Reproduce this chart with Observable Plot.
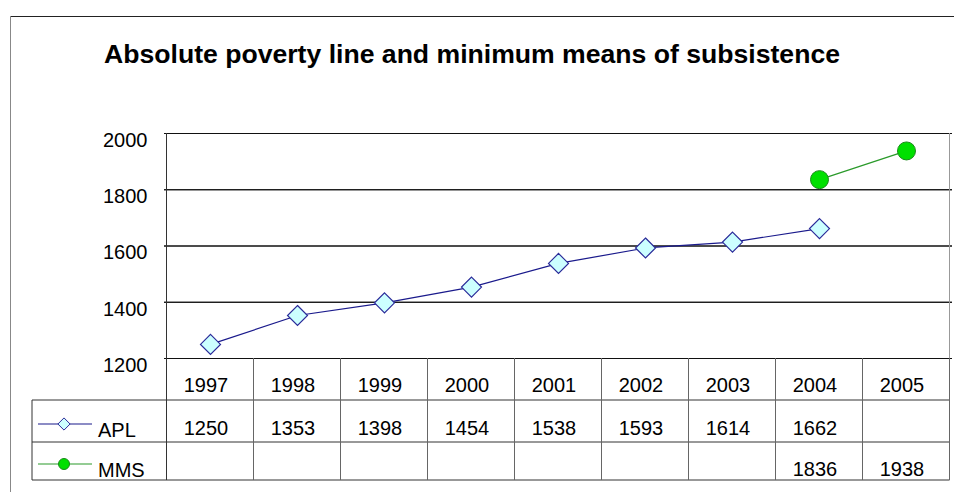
<!DOCTYPE html>
<html>
<head>
<meta charset="utf-8">
<script src="https://cdn.jsdelivr.net/npm/d3@7"></script>
<script src="https://cdn.jsdelivr.net/npm/@observablehq/plot@0.6"></script>
<style>
  html, body { margin: 0; padding: 0; background: #fff; }
  svg { display: block; }
</style>
</head>
<body>
<div id="chart"></div>
<script>
const title = "Absolute poverty line and minimum means of subsistence";
const years = ["1997", "1998", "1999", "2000", "2001", "2002", "2003", "2004", "2005"];
const apl = [1250, 1353, 1398, 1454, 1538, 1593, 1614, 1662, null];
const mms = [null, null, null, null, null, null, null, 1836, 1938];
const yTicks = [1200, 1400, 1600, 1800, 2000];
const seriesNames = ["APL", "MMS"];

const FONT = "Arial, 'Liberation Sans', sans-serif";
const aplRows = apl.map((v, i) => ({year: years[i], value: v}));
const mmsRows = mms.map((v, i) => ({year: years[i], value: v}));

const chart = Plot.plot({
  width: 954,
  height: 492,
  marginLeft: 164,
  marginRight: 2,
  marginTop: 133,
  marginBottom: 134,
  style: {fontFamily: FONT, background: "#fff", overflow: "visible"},
  x: {type: "point", domain: years, padding: 0.5, axis: null},
  y: {domain: [1200, 2000], axis: null},
  marks: [
    Plot.ruleY(yTicks.filter(d => d < 2000), {stroke: "#111", strokeWidth: 1}),
    Plot.ruleY(yTicks.filter(d => d === 2000), {stroke: "#888", strokeWidth: 1}),
    Plot.tickY(yTicks, {frameAnchor: "left", stroke: "#111"}),
    Plot.text(yTicks, {y: d => d, frameAnchor: "left", dx: -17, dy: 7, textAnchor: "end", text: d => String(d), fontSize: 20, fill: "#000"}),
    Plot.line(aplRows, {x: "year", y: "value", stroke: "#1a1a8c", strokeWidth: 1.2}),
    Plot.line(mmsRows, {x: "year", y: "value", stroke: "#2a9a2a", strokeWidth: 1.2}),
    Plot.dot(aplRows.filter(d => d.value != null), {x: "year", y: "value", symbol: "diamond2", r: 9, fill: "#ccffff", stroke: "#2a2a99", strokeWidth: 1.2}),
    Plot.dot(mmsRows.filter(d => d.value != null), {x: "year", y: "value", symbol: "circle", r: 9, fill: "#00e000", stroke: "#1a8a1a", strokeWidth: 1})
  ]
});

document.getElementById("chart").appendChild(chart);

// Post-hoc decoration drawn through Plot's own scales
const svg = d3.select(chart);
const xs = chart.scale("x");
const ys = chart.scale("y");
const step = xs.apply(years[1]) - xs.apply(years[0]);
const left = xs.apply(years[0]) - step / 2;
const right = xs.apply(years[years.length - 1]) + step / 2;
const yTop = ys.apply(2000);
const yBottom = ys.apply(1200);
const rowH1 = 42, rowH2 = 42, rowH3 = 38;
const r1 = yBottom + rowH1, r2 = r1 + rowH2, r3 = r2 + rowH3;
const tableLeft = 32;

const g = svg.append("g").attr("font-family", FONT).attr("text-anchor", "start").attr("fill", "#000");

// outer frame
g.append("line").attr("x1", 10).attr("x2", 954).attr("y1", 16.5).attr("y2", 16.5).attr("stroke", "#222");
g.append("line").attr("x1", 10.5).attr("x2", 10.5).attr("y1", 16).attr("y2", 492).attr("stroke", "#888");

// axis line + right border of plot area
g.append("line").attr("x1", left).attr("x2", left).attr("y1", yTop).attr("y2", r3).attr("stroke", "#333");
g.append("line").attr("x1", right).attr("x2", right).attr("y1", yTop).attr("y2", yBottom).attr("stroke", "#999");

// table horizontals
[r1, r2, r3].forEach(y => {
  g.append("line").attr("x1", tableLeft).attr("x2", right).attr("y1", y).attr("y2", y).attr("stroke", "#333");
});
g.append("line").attr("x1", tableLeft).attr("x2", tableLeft).attr("y1", r1).attr("y2", r3).attr("stroke", "#333");
// table verticals
years.forEach((yr, i) => {
  const xr = xs.apply(yr) + step / 2;
  g.append("line").attr("x1", xr).attr("x2", xr).attr("y1", yBottom).attr("y2", r3).attr("stroke", "#666");
});

// table text
years.forEach((yr, i) => {
  const cx = xs.apply(yr) - 4;
  g.append("text").attr("x", cx).attr("y", yBottom + 34).attr("text-anchor", "middle").attr("font-size", 20).text(yr);
  if (apl[i] != null) g.append("text").attr("x", cx).attr("y", r1 + 35).attr("text-anchor", "middle").attr("font-size", 20).text(apl[i]);
  if (mms[i] != null) g.append("text").attr("x", cx).attr("y", r2 + 34).attr("text-anchor", "middle").attr("font-size", 20).text(mms[i]);
});

// legend keys in table
const keyY1 = r1 + 24, keyY2 = r2 + 22;
g.append("line").attr("x1", 38).attr("x2", 92).attr("y1", keyY1).attr("y2", keyY1).attr("stroke", "#1a1a8c").attr("stroke-width", 1.2);
g.append("path").attr("d", d3.symbol(d3.symbolDiamond2, Math.PI * 5.5 * 5.5)()).attr("transform", `translate(64,${keyY1})`).attr("fill", "#ccffff").attr("stroke", "#2a2a99");
g.append("text").attr("x", 98).attr("y", r1 + 37).attr("text-anchor", "start").attr("font-size", 20).text(seriesNames[0]);
g.append("line").attr("x1", 38).attr("x2", 92).attr("y1", keyY2).attr("y2", keyY2).attr("stroke", "#2a9a2a").attr("stroke-width", 1.2);
g.append("circle").attr("cx", 64).attr("cy", keyY2).attr("r", 5.5).attr("fill", "#00e000").attr("stroke", "#1a8a1a");
g.append("text").attr("x", 98).attr("y", r2 + 35).attr("text-anchor", "start").attr("font-size", 20).text(seriesNames[1]);

// title
g.append("text").attr("x", 472).attr("y", 63).attr("text-anchor", "middle").attr("font-size", 26.6).attr("font-weight", "bold").text(title);
</script>
</body>
</html>
